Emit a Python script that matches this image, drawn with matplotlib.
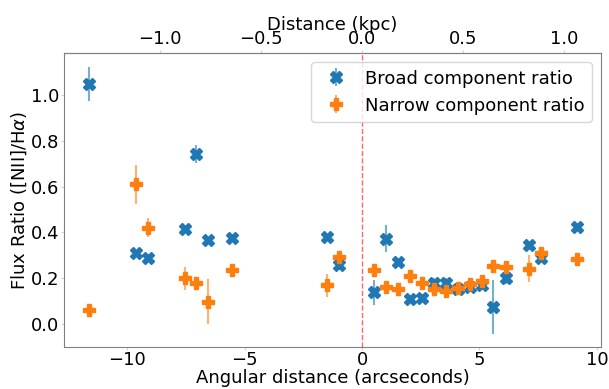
import numpy as np
import matplotlib
matplotlib.use("Agg")
import matplotlib.pyplot as plt

# angular offsets (arcsec) shared by both series
offsets = [-11.65, -9.61, -9.10, -7.56, -7.09, -6.58, -5.53, -1.49, -0.98, 0.52,
           1.03, 1.54, 2.05, 2.57, 3.06, 3.57, 4.08, 4.59, 5.10, 5.58,
           6.11, 7.11, 7.63, 9.14]

broad_ratio = [1.047, 0.308, 0.289, 0.415, 0.741, 0.367, 0.377, 0.379, 0.257, 0.138,
               0.373, 0.271, 0.110, 0.116, 0.181, 0.179, 0.154, 0.164, 0.170, 0.074,
               0.203, 0.343, 0.290, 0.424]
broad_err = [0.075, 0.015, 0.015, 0.015, 0.040, 0.015, 0.015, 0.015, 0.02, 0.055,
             0.06, 0.015, 0.015, 0.015, 0.02, 0.02, 0.015, 0.015, 0.02, 0.117,
             0.03, 0.015, 0.015, 0.015]

narrow_ratio = [0.062, 0.611, 0.421, 0.200, 0.180, 0.098, 0.237, 0.170, 0.292, 0.235,
                0.161, 0.151, 0.212, 0.180, 0.155, 0.144, 0.158, 0.176, 0.186, 0.255,
                0.248, 0.242, 0.312, 0.283]
narrow_err = [0.015, 0.085, 0.04, 0.05, 0.015, 0.097, 0.015, 0.05, 0.015, 0.02,
              0.015, 0.015, 0.015, 0.015, 0.015, 0.015, 0.015, 0.015, 0.015, 0.015,
              0.015, 0.06, 0.015, 0.015]

KPC_PER_ARCSEC = 0.1163

plt.rcParams["font.size"] = 13

fig = plt.figure(figsize=(6.09, 3.89), dpi=100)
ax = fig.add_axes([0.105, 0.109, 0.882, 0.754])

ax.errorbar(offsets, broad_ratio, yerr=broad_err, fmt="X", color="tab:blue",
            markersize=9, elinewidth=1.5, ecolor=(0.12, 0.47, 0.71, 0.6),
            label="Broad component ratio")
ax.errorbar(offsets, narrow_ratio, yerr=narrow_err, fmt="P", color="tab:orange",
            markersize=9, elinewidth=1.5, ecolor=(1.0, 0.5, 0.05, 0.6),
            label="Narrow component ratio")
ax.axvline(0, color="red", linestyle="--", linewidth=1, alpha=0.6)

ax.set_xlim(-12.7, 10.18)
ax.set_ylim(-0.098, 1.181)
ax.set_xticks([-10, -5, 0, 5, 10])
ax.set_yticks([0.0, 0.2, 0.4, 0.6, 0.8, 1.0])
ax.set_xlabel("Angular distance (arcseconds)", labelpad=0)
ax.set_ylabel(r"Flux Ratio ([NII]/H$\alpha$)", labelpad=1)

secax = ax.secondary_xaxis("top", functions=(lambda a: a * KPC_PER_ARCSEC,
                                             lambda d: d / KPC_PER_ARCSEC))
secax.set_xticks([-1.0, -0.5, 0.0, 0.5, 1.0])
secax.set_xlabel("Distance (kpc)", labelpad=0)

for a in (ax, secax):
    for s in a.spines.values():
        s.set_color("gray")
    a.tick_params(color="lightgray", length=2, pad=1.5)

ax.legend(loc="upper right", handletextpad=0.6)

fig.savefig("out.png", dpi=100)
